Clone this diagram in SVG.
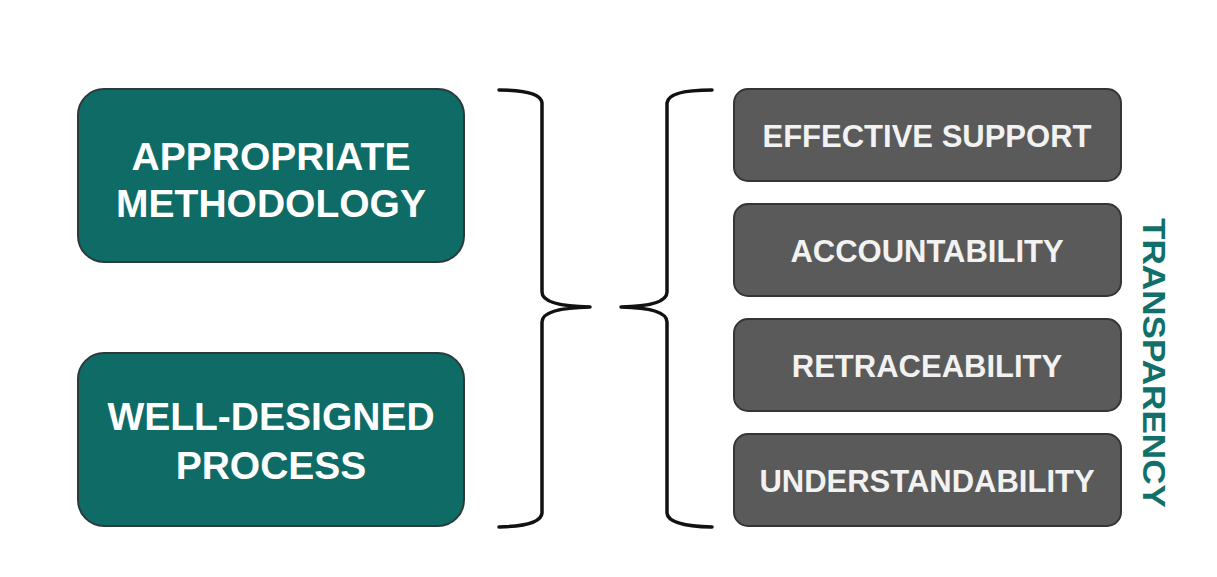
<svg xmlns="http://www.w3.org/2000/svg" width="1217" height="577" viewBox="0 0 1217 577">
<style>
.teal{fill:#0f6b66;stroke:#2b3b3a;stroke-width:2}
.gray{fill:#5a5a5a;stroke:#353535;stroke-width:2}
.tl{font-family:"Liberation Sans",Arial,sans-serif;font-weight:bold;font-size:39px;fill:#ffffff;text-anchor:middle}
.tg{font-family:"Liberation Sans",Arial,sans-serif;font-weight:bold;font-size:31px;fill:#f2f2f2;text-anchor:middle}
.brace{fill:none;stroke:#111111;stroke-width:3.5;stroke-linecap:round;stroke-linejoin:round}
.vt{font-family:"Liberation Sans",Arial,sans-serif;font-weight:bold;font-size:32px;fill:#12706b;text-anchor:middle}
</style>
<rect width="1217" height="577" fill="#ffffff"/>
<g id="appropriate-methodology">
<rect class="teal" x="78" y="89" width="386" height="173" rx="26"/>
<text class="tl" x="271" y="170">APPROPRIATE</text>
<text class="tl" x="271" y="217">METHODOLOGY</text>
</g>
<g id="well-designed-process">
<rect class="teal" x="78" y="353" width="386" height="173" rx="26"/>
<text class="tl" x="271" y="430">WELL-DESIGNED</text>
<text class="tl" x="271" y="479">PROCESS</text>
</g>
<g id="connectors">
<path class="brace" d="M499,90 Q541,90 542,103 L542,292 Q542,306 590,307 Q542,308 542,322 L542,513 Q541,526 499,527"/>
<path class="brace" d="M712,90 Q668,90 667,103 L667,292 Q667,306 621,307 Q667,308 667,322 L667,513 Q668,526 712,527"/>
</g>
<g id="effective-support">
<rect class="gray" x="734" y="89" width="387" height="92" rx="14"/>
<text class="tg" x="927" y="147">EFFECTIVE SUPPORT</text>
</g>
<g id="accountability">
<rect class="gray" x="734" y="204" width="387" height="92" rx="14"/>
<text class="tg" x="927" y="262">ACCOUNTABILITY</text>
</g>
<g id="retraceability">
<rect class="gray" x="734" y="319" width="387" height="92" rx="14"/>
<text class="tg" x="927" y="377">RETRACEABILITY</text>
</g>
<g id="understandability">
<rect class="gray" x="734" y="434" width="387" height="92" rx="14"/>
<text class="tg" x="927" y="492">UNDERSTANDABILITY</text>
</g>
<g id="transparency">
<text class="vt" transform="translate(1143,363) rotate(90)" x="0" y="0" textLength="290" lengthAdjust="spacingAndGlyphs">TRANSPARENCY</text>
</g>
</svg>
